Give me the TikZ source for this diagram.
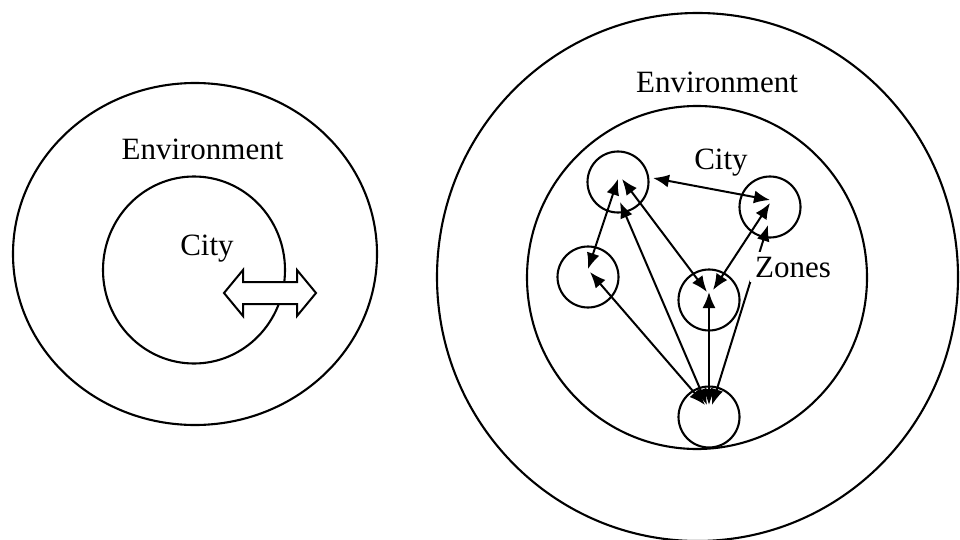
\documentclass[tikz,border=0pt]{standalone}
\usepackage{fontspec}
\setmainfont{Liberation Serif}
\usetikzlibrary{shapes.geometric,arrows.meta,calc}
\begin{document}
\begin{tikzpicture}[x=1pt,y=-1pt,line width=2.1pt,
  ring/.style={ellipse,draw,inner sep=0pt},
  zone/.style={circle,draw,minimum size=61pt,inner sep=0pt},
  lbl/.style={font=\fontsize{31}{36}\selectfont,anchor=base,inner sep=0pt},
  link/.style={{Latex[length=16pt,width=13pt]}-{Latex[length=16pt,width=13pt]},line width=2pt}]
\useasboundingbox (0,0) rectangle (960,540);
% left diagram
\node[ring,minimum width=364pt,minimum height=342pt] (envL) at (195,254) {};
\node[ring,minimum width=182pt,minimum height=187pt] (cityL) at (194,270) {};
\node[lbl] (envLt) at (202.5,160) {Environment};
\node[lbl] (cityLt) at (207,255) {City};
\draw[fill=white,line width=2pt,line join=miter]
  (224,293) -- (243,270) -- (243,282) -- (297,282) -- (297,270) -- (316,293)
  -- (297,316) -- (297,304) -- (243,304) -- (243,316) -- cycle;
% right diagram
\node[ring,minimum width=521pt,minimum height=528pt] (envR) at (697.5,277) {};
\node[ring,minimum width=340pt,minimum height=343pt] (cityR) at (697,277.5) {};
\node[lbl] (envRt) at (717,93) {Environment};
\node[lbl] (cityRt) at (721,170) {City};
\node[zone] (tl) at (618,182) {};
\node[zone] (tr) at (770,207) {};
\node[zone] (lm) at (588,277) {};
\node[zone] (cm) at (709,300) {};
\node[zone] (bt) at (709,417) {};
\draw[link] ([shift={(35,-4)}]tl.center) -- ([shift={(0,-7)}]tr.center);
\draw[link] ([shift={(0,-3)}]tl.center) -- ([shift={(0,-8)}]lm.center);
\draw[link] ([shift={(4,-3)}]tl.center) -- ([shift={(-2,-8)}]cm.center);
\draw[link] ([shift={(-2,-12)}]bt.center) -- ([shift={(2,20)}]tl.center);
\draw[link] ([shift={(-4,-12)}]bt.center) -- ([shift={(2,-5)}]lm.center);
\draw[link] ([shift={(0,-12)}]bt.center) -- ([shift={(0,-8)}]cm.center);
\draw[link] ([shift={(4,-10)}]cm.center) -- ([shift={(0,-4)}]tr.center);
\draw[link] ([shift={(3,-12)}]bt.center) -- ([shift={(-2,18)}]tr.center);
\node[lbl,fill=white,inner sep=5pt] (zones) at (793,277) {Zones};
\end{tikzpicture}
\end{document}
